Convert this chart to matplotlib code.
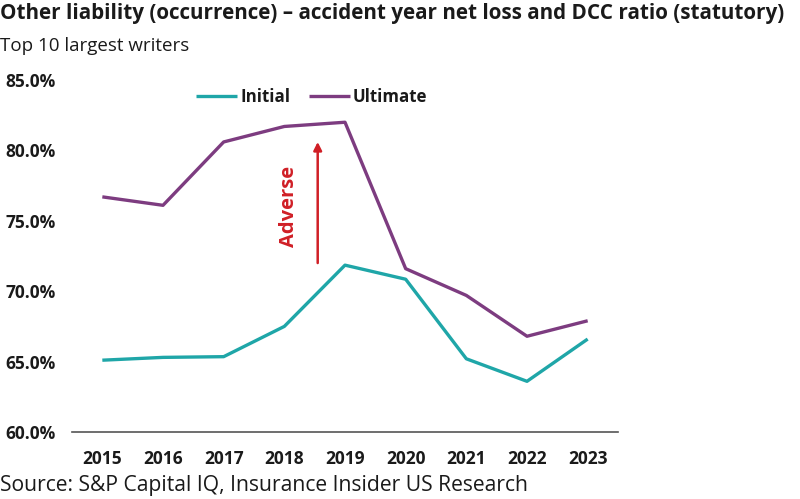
import matplotlib
matplotlib.use("Agg")
import matplotlib.pyplot as plt
from matplotlib.ticker import FuncFormatter

years = ["2015", "2016", "2017", "2018", "2019", "2020", "2021", "2022", "2023"]
initial = [65.1, 65.3, 65.35, 67.5, 71.85, 70.85, 65.2, 63.6, 66.6]
ultimate = [76.7, 76.1, 80.6, 81.7, 82.0, 71.6, 69.7, 66.8, 67.9]
yticks = [60, 65, 70, 75, 80, 85]

plt.rcParams['font.family'] = ['Open Sans', 'DejaVu Sans']

TEAL = "#1fa6a8"
PURPLE = "#7d3c80"
RED = "#d01f26"
DARK = "#1a1a1a"

fig = plt.figure(figsize=(8.0, 4.99), dpi=100)
ax = fig.add_axes([72/800, 1-432/499, (618-72)/800, (432-80)/499])

x = list(range(len(years)))
ax.plot(x, initial, color=TEAL, lw=2.4, label="Initial", solid_capstyle='butt')
ax.plot(x, ultimate, color=PURPLE, lw=2.4, label="Ultimate", solid_capstyle='butt')

ax.set_xlim(-0.5, len(years) - 0.5)
ax.set_ylim(60, 85)
ax.set_xticks(x)
ax.set_xticklabels(years, fontsize=12.5, fontweight='bold', color=DARK)
ax.set_yticks(yticks)
ax.yaxis.set_major_formatter(FuncFormatter(lambda v, p: f"{v:.1f}%"))
for lab in ax.get_yticklabels():
    lab.set_fontsize(12.5)
    lab.set_fontweight('bold')
    lab.set_color(DARK)
    lab.set_ha('left')
ax.tick_params(axis='y', length=0, pad=48)
ax.tick_params(axis='x', length=0, pad=13)
for s in ['top', 'right', 'left']:
    ax.spines[s].set_visible(False)
ax.spines['bottom'].set_color('#555555')
ax.spines['bottom'].set_linewidth(1.2)
ax.patch.set_alpha(0)

# Adverse arrow
ax.annotate("", xy=(3.55, 80.6), xytext=(3.55, 72.0),
            arrowprops=dict(arrowstyle="-|>", color=RED, lw=1.8,
                            mutation_scale=12, shrinkA=0, shrinkB=0))
ax.text(3.07, 76.0, "Adverse", rotation=90, color=RED, fontsize=14.5,
        fontweight='bold', ha='center', va='center')

leg = ax.legend(loc='center', bbox_to_anchor=(312/800, 1-97/499),
                bbox_transform=fig.transFigure, ncol=2, frameon=False,
                handlelength=2.4, handletextpad=0.2, columnspacing=1.1,
                prop={'family': 'Open Sans', 'weight': 'bold', 'size': 12.2})
for t in leg.get_texts():
    t.set_color(DARK)

fig.text(0.0, 1-14/499, "Other liability (occurrence) \u2013 accident year net loss and DCC ratio (statutory)",
         fontsize=14.9, fontweight='bold', color=DARK, ha='left', va='center')
fig.text(0.0, 1-46/499, "Top 10 largest writers", fontsize=13.5, color=DARK,
         ha='left', va='center')
fig.text(0.0, 1-485/499, "Source: S&P Capital IQ, Insurance Insider US Research",
         fontsize=15.2, color=DARK, ha='left', va='center')

fig.savefig("out.png", dpi=100)
